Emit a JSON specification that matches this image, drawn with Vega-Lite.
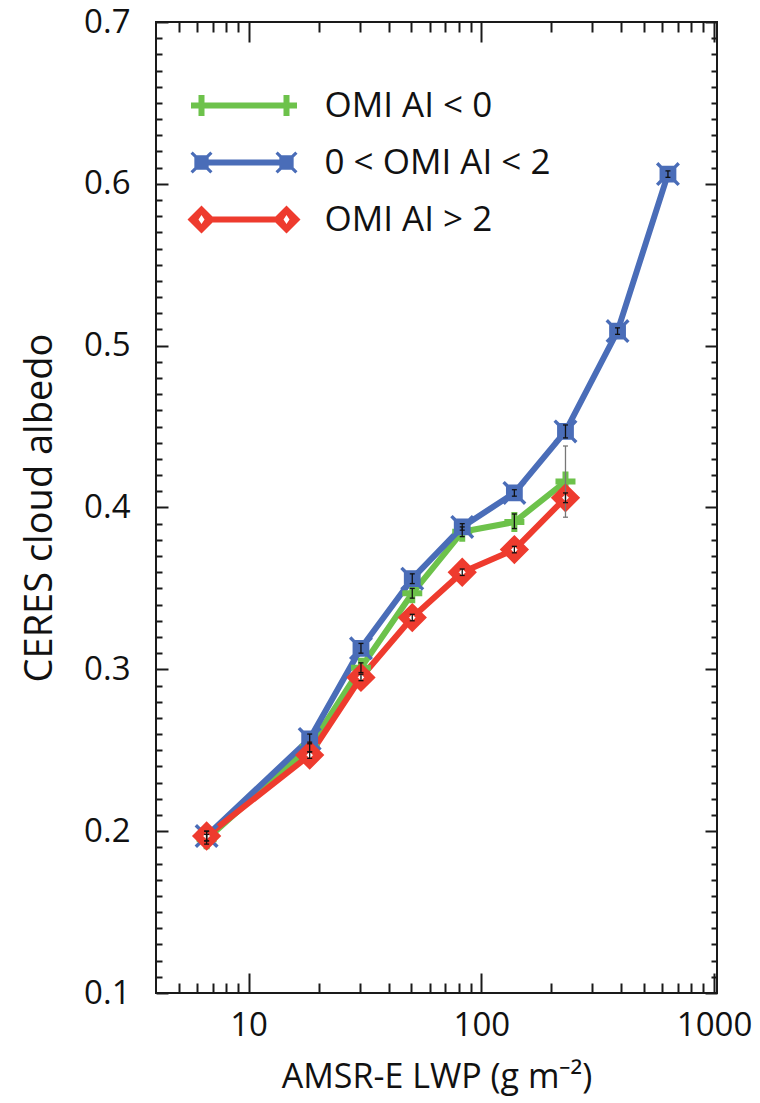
{
  "$schema": "https://vega.github.io/schema/vega-lite/v6.json",
  "autosize": "none",
  "width": 561,
  "height": 971,
  "padding": {"left": 156, "top": 22, "right": 43, "bottom": 110},
  "background": "white",
  "config": {
    "view": {"stroke": "#1a1a1a", "strokeWidth": 2},
    "font": "Open Sans",
    "axis": {"domain": false, "grid": false, "tickColor": "#1a1a1a", "tickWidth": 2, "labelFont": "Open Sans", "labelFontSize": 33, "labelColor": "#111111", "titleFont": "Open Sans", "titleFontSize": 33, "titleFontWeight": "normal", "titleColor": "#111111"}
  },
  "data": {"values": [
    {"group": "OMI AI < 0", "lwp": 6.6, "albedo": 0.195, "lo": 0.192, "hi": 0.198},
    {"group": "OMI AI < 0", "lwp": 18.3, "albedo": 0.252, "lo": 0.249, "hi": 0.255},
    {"group": "OMI AI < 0", "lwp": 30.4, "albedo": 0.301, "lo": 0.298, "hi": 0.304},
    {"group": "OMI AI < 0", "lwp": 50.5, "albedo": 0.347, "lo": 0.344, "hi": 0.350},
    {"group": "OMI AI < 0", "lwp": 82.8, "albedo": 0.385, "lo": 0.382, "hi": 0.388},
    {"group": "OMI AI < 0", "lwp": 138.7, "albedo": 0.391, "lo": 0.387, "hi": 0.396},
    {"group": "OMI AI < 0", "lwp": 230, "albedo": 0.416, "lo": 0.394, "hi": 0.438},
    {"group": "0 < OMI AI < 2", "lwp": 6.6, "albedo": 0.197, "lo": 0.194, "hi": 0.200},
    {"group": "0 < OMI AI < 2", "lwp": 18.3, "albedo": 0.257, "lo": 0.254, "hi": 0.260},
    {"group": "0 < OMI AI < 2", "lwp": 30.4, "albedo": 0.313, "lo": 0.310, "hi": 0.316},
    {"group": "0 < OMI AI < 2", "lwp": 50.5, "albedo": 0.356, "lo": 0.353, "hi": 0.359},
    {"group": "0 < OMI AI < 2", "lwp": 82.8, "albedo": 0.388, "lo": 0.386, "hi": 0.390},
    {"group": "0 < OMI AI < 2", "lwp": 138.7, "albedo": 0.409, "lo": 0.407, "hi": 0.411},
    {"group": "0 < OMI AI < 2", "lwp": 230, "albedo": 0.447, "lo": 0.443, "hi": 0.451},
    {"group": "0 < OMI AI < 2", "lwp": 385, "albedo": 0.509, "lo": 0.507, "hi": 0.511},
    {"group": "0 < OMI AI < 2", "lwp": 634, "albedo": 0.606, "lo": 0.604, "hi": 0.608},
    {"group": "OMI AI > 2", "lwp": 6.6, "albedo": 0.197, "lo": 0.194, "hi": 0.200},
    {"group": "OMI AI > 2", "lwp": 18.3, "albedo": 0.247, "lo": 0.245, "hi": 0.249},
    {"group": "OMI AI > 2", "lwp": 30.4, "albedo": 0.295, "lo": 0.293, "hi": 0.297},
    {"group": "OMI AI > 2", "lwp": 50.5, "albedo": 0.332, "lo": 0.330, "hi": 0.334},
    {"group": "OMI AI > 2", "lwp": 82.8, "albedo": 0.360, "lo": 0.358, "hi": 0.362},
    {"group": "OMI AI > 2", "lwp": 138.7, "albedo": 0.374, "lo": 0.372, "hi": 0.376},
    {"group": "OMI AI > 2", "lwp": 230, "albedo": 0.406, "lo": 0.403, "hi": 0.409}
  ]},
  "resolve": {"axis": {"x": "independent", "y": "independent"}},
  "layer": [
    {
      "mark": {"type": "line", "strokeWidth": 6, "strokeJoin": "round"},
      "encoding": {
        "x": {"field": "lwp", "type": "quantitative", "scale": {"type": "log", "domain": [4, 1030], "nice": false}, "axis": {"orient": "bottom", "values": [10, 100, 1000], "offset": -20, "tickSize": 20, "labelPadding": 16, "format": "d", "title": "AMSR-E LWP (g m⁻²)", "titleFontSize": 34, "titlePadding": 18}},
        "y": {"field": "albedo", "type": "quantitative", "scale": {"domain": [0.1, 0.7], "nice": false, "zero": false}, "axis": {"orient": "left", "values": [0.1, 0.2, 0.3, 0.4, 0.5, 0.6, 0.7], "offset": -12, "tickSize": 12, "labelPadding": 26, "format": ".1f", "title": "CERES cloud albedo", "titleFontSize": 38, "titlePadding": 24}},
        "color": {"field": "group", "type": "nominal", "scale": {"domain": ["OMI AI < 0", "0 < OMI AI < 2", "OMI AI > 2"], "range": ["#6DC24B", "#4A6DB8", "#EE3B2E"]},
          "legend": {"orient": "none", "legendX": 70.5, "legendY": 66, "title": null, "padding": 0, "symbolSize": 400, "labelOffset": 63, "labelFontSize": 35, "labelFont": "Open Sans", "labelColor": "#111111", "labelLimit": 0, "rowPadding": 21,
            "encode": {"symbols": {"update": {
              "shape": {"signal": "datum.value === 'OMI AI < 0' ? 'M-4.25,-0.3H4.25V0.3H-4.25Z M-5.3,-0.3H-4.55V-1.05H-3.95V-0.3H-3.2V0.3H-3.95V1.05H-4.55V0.3H-5.3Z M3.2,-0.3H3.95V-1.05H4.55V-0.3H5.3V0.3H4.55V1.05H3.95V0.3H3.2Z' : datum.value === '0 < OMI AI < 2' ? 'M-4.25,-0.3H4.25V0.3H-4.25Z M-3.755,-0.715L-3.37,-1.1L-3.15,-0.88L-3.535,-0.495L-3.535,0.495L-3.15,0.88L-3.37,1.1L-3.755,0.715L-4.745,0.715L-5.13,1.1L-5.35,0.88L-4.965,0.495L-4.965,-0.495L-5.35,-0.88L-5.13,-1.1L-4.745,-0.715Z M4.745,-0.715L5.13,-1.1L5.35,-0.88L4.965,-0.495L4.965,0.495L5.35,0.88L5.13,1.1L4.745,0.715L3.755,0.715L3.37,1.1L3.15,0.88L3.535,0.495L3.535,-0.495L3.15,-0.88L3.37,-1.1L3.755,-0.715Z' : 'M-3.25,-0.3H3.25V0.3H-3.25Z M-4.25,-1.4L-2.85,0L-4.25,1.4L-5.65,0Z M-4.25,-0.45L-4.55,0L-4.25,0.45L-3.95,0Z M4.25,-1.4L5.65,0L4.25,1.4L2.85,0Z M4.25,-0.45L3.95,0L4.25,0.45L4.55,0Z'"},
              "fill": {"scale": "color", "field": "value"},
              "stroke": {"value": "transparent"},
              "strokeWidth": {"value": 0},
              "opacity": {"value": 1},
              "size": {"value": 400}
            }}}
          }
        }
      }
    },
    {
      "transform": [{"filter": "datum.group === 'OMI AI < 0'"}],
      "mark": {"type": "point", "shape": "M-1,-0.3H-0.3V-1H0.3V-0.3H1V0.3H0.3V1H-0.3V0.3H-1Z", "size": 400, "filled": true, "color": "#6DC24B", "opacity": 1},
      "encoding": {
        "x": {"field": "lwp", "type": "quantitative", "axis": {"orient": "bottom", "values": [5, 6, 7, 8, 9, 20, 30, 40, 50, 60, 70, 80, 90, 200, 300, 400, 500, 600, 700, 800, 900], "offset": -10, "tickSize": 10, "labels": false, "title": null}},
        "y": {"field": "albedo", "type": "quantitative", "axis": {"orient": "left", "values": [0.11, 0.12, 0.13, 0.14, 0.15, 0.16, 0.17, 0.18, 0.19, 0.21, 0.22, 0.23, 0.24, 0.25, 0.26, 0.27, 0.28, 0.29, 0.31, 0.32, 0.33, 0.34, 0.35, 0.36, 0.37, 0.38, 0.39, 0.41, 0.42, 0.43, 0.44, 0.45, 0.46, 0.47, 0.48, 0.49, 0.51, 0.52, 0.53, 0.54, 0.55, 0.56, 0.57, 0.58, 0.59, 0.61, 0.62, 0.63, 0.64, 0.65, 0.66, 0.67, 0.68, 0.69], "offset": -6, "tickSize": 6, "labels": false, "title": null}}
      }
    },
    {
      "transform": [{"filter": "datum.group === '0 < OMI AI < 2'"}],
      "mark": {"type": "point", "shape": "M0.5,-0.7L0.8,-1L1,-0.8L0.7,-0.5L0.7,0.5L1,0.8L0.8,1L0.5,0.7L-0.5,0.7L-0.8,1L-1,0.8L-0.7,0.5L-0.7,-0.5L-1,-0.8L-0.8,-1L-0.5,-0.7Z", "size": 576, "filled": true, "color": "#4A6DB8", "opacity": 1},
      "encoding": {
        "x": {"field": "lwp", "type": "quantitative", "axis": {"orient": "top", "values": [10, 100, 1000], "offset": -20, "tickSize": 20, "labels": false, "title": null}},
        "y": {"field": "albedo", "type": "quantitative", "axis": {"orient": "right", "values": [0.1, 0.2, 0.3, 0.4, 0.5, 0.6, 0.7], "offset": -12, "tickSize": 12, "labels": false, "title": null}}
      }
    },
    {
      "transform": [{"filter": "datum.group === 'OMI AI > 2'"}],
      "mark": {"type": "point", "shape": "diamond", "size": 324, "filled": true, "fill": "white", "stroke": "#EE3B2E", "strokeWidth": 8, "opacity": 1},
      "encoding": {
        "x": {"field": "lwp", "type": "quantitative", "axis": {"orient": "top", "values": [5, 6, 7, 8, 9, 20, 30, 40, 50, 60, 70, 80, 90, 200, 300, 400, 500, 600, 700, 800, 900], "offset": -10, "tickSize": 10, "labels": false, "title": null}},
        "y": {"field": "albedo", "type": "quantitative", "axis": {"orient": "right", "values": [0.11, 0.12, 0.13, 0.14, 0.15, 0.16, 0.17, 0.18, 0.19, 0.21, 0.22, 0.23, 0.24, 0.25, 0.26, 0.27, 0.28, 0.29, 0.31, 0.32, 0.33, 0.34, 0.35, 0.36, 0.37, 0.38, 0.39, 0.41, 0.42, 0.43, 0.44, 0.45, 0.46, 0.47, 0.48, 0.49, 0.51, 0.52, 0.53, 0.54, 0.55, 0.56, 0.57, 0.58, 0.59, 0.61, 0.62, 0.63, 0.64, 0.65, 0.66, 0.67, 0.68, 0.69], "offset": -6, "tickSize": 6, "labels": false, "title": null}}
      }
    },
    {
      "mark": {"type": "rule", "strokeWidth": 1.3},
      "encoding": {
        "x": {"field": "lwp", "type": "quantitative", "axis": null},
        "y": {"field": "lo", "type": "quantitative", "axis": null},
        "y2": {"field": "hi"},
        "color": {"condition": {"test": "datum.hi - datum.lo > 0.02", "value": "#777777"}, "value": "#111111"}
      }
    },
    {
      "mark": {"type": "point", "shape": "stroke", "size": 25, "strokeWidth": 1.3, "filled": false, "opacity": 1},
      "encoding": {
        "x": {"field": "lwp", "type": "quantitative", "axis": null},
        "y": {"field": "lo", "type": "quantitative", "axis": null},
        "color": {"condition": {"test": "datum.hi - datum.lo > 0.02", "value": "#777777"}, "value": "#111111"}
      }
    },
    {
      "mark": {"type": "point", "shape": "stroke", "size": 25, "strokeWidth": 1.3, "filled": false, "opacity": 1},
      "encoding": {
        "x": {"field": "lwp", "type": "quantitative", "axis": null},
        "y": {"field": "hi", "type": "quantitative", "axis": null},
        "color": {"condition": {"test": "datum.hi - datum.lo > 0.02", "value": "#777777"}, "value": "#111111"}
      }
    }
  ]
}
